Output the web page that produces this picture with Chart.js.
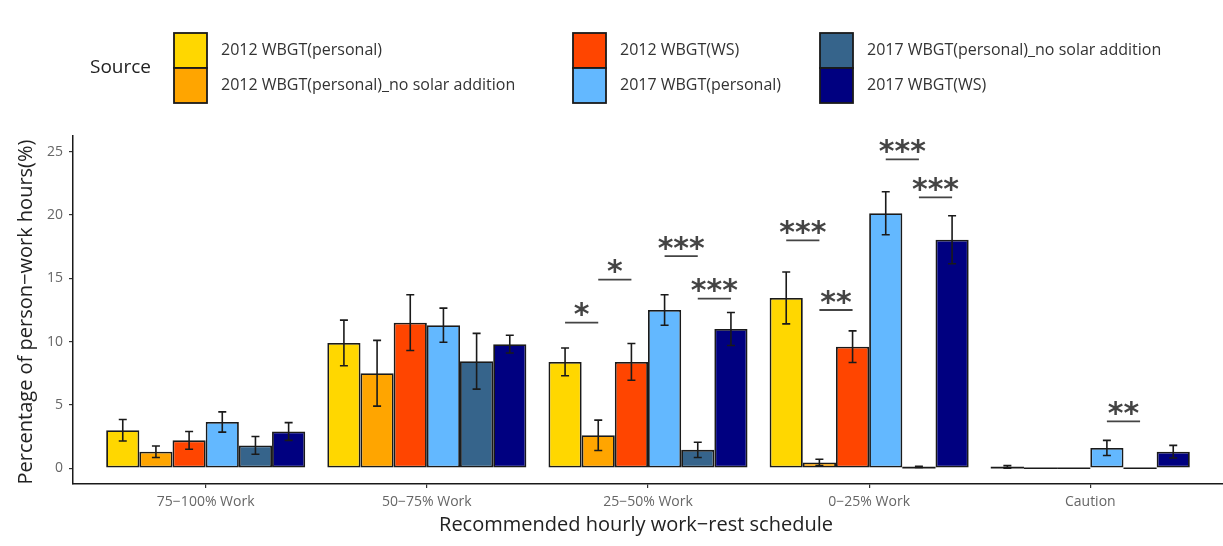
<!DOCTYPE html>
<html>
<head>
<meta charset="utf-8">
<script src="https://cdn.jsdelivr.net/npm/chart.js@4"></script>
<style>
  html, body { margin: 0; padding: 0; background: #fff; }
  #wrap { width: 1223px; height: 546px; }
</style>
</head>
<body>
<div id="wrap"><canvas id="c" width="1223" height="546"></canvas></div>
<script>
// ---- Daten ----
const categories = ["75\u2212100% Work", "50\u221275% Work", "25\u221250% Work", "0\u221225% Work", "Caution"];
const seriesNames = [
  "2012 WBGT(personal)",
  "2012 WBGT(personal)_no solar addition",
  "2012 WBGT(WS)",
  "2017 WBGT(personal)",
  "2017 WBGT(personal)_no solar addition",
  "2017 WBGT(WS)"
];
const seriesColors = ["#FFD700", "#FFA500", "#FF4500", "#63B8FF", "#36648B", "#000080"];

const v2012Personal   = [3.0, 9.9, 8.4, 13.45, 0.1];
const e2012Personal   = [0.85, 1.8, 1.1, 2.05, 0.1];
const v2012PersNoSol  = [1.3, 7.5, 2.6, 0.45, 0];
const e2012PersNoSol  = [0.45, 2.6, 1.2, 0.25, 0];
const v2012WS         = [2.2, 11.5, 8.4, 9.6, 0];
const e2012WS         = [0.7, 2.2, 1.45, 1.25, 0];
const v2017Personal   = [3.65, 11.3, 12.5, 20.15, 1.6];
const e2017Personal   = [0.8, 1.35, 1.2, 1.7, 0.6];
const v2017PersNoSol  = [1.8, 8.45, 1.45, 0.1, 0];
const e2017PersNoSol  = [0.7, 2.2, 0.6, 0.05, 0];
const v2017WS         = [2.9, 9.8, 11.0, 18.05, 1.3];
const e2017WS         = [0.7, 0.7, 1.3, 1.9, 0.5];

const seriesValues = [v2012Personal, v2012PersNoSol, v2012WS, v2017Personal, v2017PersNoSol, v2017WS];
const seriesErrors = [e2012Personal, e2012PersNoSol, e2012WS, e2017Personal, e2017PersNoSol, e2017WS];

// Signifikanz-Markierungen: Kategorie, Balken von/bis, Höhe der Linie, Text
const sigGroup = [2, 2, 2, 2, 3, 3, 3, 3, 4];
const sigFrom  = [0, 1, 3, 4, 0, 1, 3, 4, 3];
const sigTo    = [1, 2, 4, 5, 1, 2, 4, 5, 4];
const sigY     = [11.5, 14.9, 16.75, 13.4, 18.0, 12.5, 24.4, 21.4, 3.7];
const sigLabel = ["*", "*", "***", "***", "***", "**", "***", "***", "**"];

const yTicks = [0, 5, 10, 15, 20, 25];

const FONT = "'Open Sans', sans-serif";

// ---- Plugin: Fehlerbalken, Signifikanz, Legende, Achsentitel ----
const extras = {
  id: "extras",
  afterDatasetsDraw(chart) {
    const ctx = chart.ctx;
    const ys = chart.scales.y;
    ctx.save();
    ctx.strokeStyle = "#1a1a1a";
    ctx.lineWidth = 1.6;
    chart.data.datasets.forEach((ds, k) => {
      const meta = chart.getDatasetMeta(k);
      meta.data.forEach((bar, i) => {
        const p = bar.getProps(["x", "y", "base", "width"], true);
        const half = p.width / 2;
        // flache Balken: nur Kontur als Linie
        if (Math.abs(p.base - p.y) < 2) {
          ctx.beginPath();
          ctx.moveTo(p.x - half, p.base);
          ctx.lineTo(p.x + half, p.base);
          ctx.stroke();
        }
        const e = ds.errors[i];
        if (e > 0) {
          const v = ds.data[i].y;
          const yT = ys.getPixelForValue(v + e);
          const yB = ys.getPixelForValue(Math.max(v - e, 0));
          ctx.beginPath();
          ctx.moveTo(p.x, yT); ctx.lineTo(p.x, yB);
          ctx.moveTo(p.x - 4, yT); ctx.lineTo(p.x + 4, yT);
          ctx.moveTo(p.x - 4, yB); ctx.lineTo(p.x + 4, yB);
          ctx.stroke();
        }
      });
    });

    // Signifikanz
    ctx.font = "bold 30px 'DejaVu Sans'";
    ctx.textAlign = "center";
    ctx.textBaseline = "alphabetic";
    sigGroup.forEach((g, n) => {
      const a = chart.getDatasetMeta(sigFrom[n]).data[g];
      const b = chart.getDatasetMeta(sigTo[n]).data[g];
      const y = ys.getPixelForValue(sigY[n]);
      ctx.strokeStyle = "#444";
      ctx.lineWidth = 1.8;
      ctx.beginPath();
      ctx.moveTo(a.x, y); ctx.lineTo(b.x, y);
      ctx.stroke();
      const m = ctx.measureText(sigLabel[n]);
      const base = y - 13 - (m.actualBoundingBoxDescent - m.actualBoundingBoxAscent) / 2;
      ctx.fillStyle = "#444";
      ctx.fillText(sigLabel[n], (a.x + b.x) / 2, base);
    });
    ctx.restore();
  },
  afterDraw(chart) {
    const ctx = chart.ctx;
    ctx.save();
    // Legende
    ctx.fillStyle = "#222";
    ctx.font = "19px " + FONT;
    ctx.textAlign = "left";
    ctx.textBaseline = "middle";
    ctx.fillText("Source", 90, 68);
    const colX = [174, 573, 820];
    ctx.font = "16px " + FONT;
    seriesNames.forEach((name, k) => {
      const x = colX[Math.floor(k / 2)];
      const top = 33 + (k % 2) * 35;
      ctx.fillStyle = seriesColors[k];
      ctx.fillRect(x, top, 33, 35);
      ctx.strokeStyle = "#1a1a1a";
      ctx.lineWidth = 1.8;
      ctx.strokeRect(x, top, 33, 35);
      ctx.fillStyle = "#333";
      ctx.fillText(name, x + 47, top + 17.5);
    });
    // Achsentitel
    ctx.fillStyle = "#222";
    ctx.font = "20px " + FONT;
    ctx.textAlign = "center";
    ctx.fillText("Recommended hourly work\u2212rest schedule", 636, 525);
    ctx.translate(26, 312);
    ctx.rotate(-Math.PI / 2);
    ctx.fillText("Percentage of person\u2212work hours(%)", 0, 0);
    ctx.restore();
  }
};

// ---- Chart ----
const datasets = seriesValues.map((vals, k) => ({
  label: seriesNames[k],
  data: vals.map((v, i) => ({ x: i, y: v })),
  errors: seriesErrors[k],
  backgroundColor: seriesColors[k],
  borderColor: "#1a1a1a",
  borderWidth: 1.8,
  borderSkipped: false,
  categoryPercentage: 0.9,
  barPercentage: 1.0
}));

new Chart(document.getElementById("c").getContext("2d"), {
  type: "bar",
  data: { datasets },
  options: {
    responsive: false,
    animation: false,
    layout: { padding: { top: 136, left: 0, right: 0, bottom: 0 } },
    plugins: { legend: { display: false }, tooltip: { enabled: false } },
    scales: {
      x: {
        type: "linear",
        offset: false,
        min: -0.6, max: 4.6,
        afterBuildTicks: (s) => { s.ticks = categories.map((c, i) => ({ value: i })); },
        afterFit: (s) => { s.height = 62; },
        ticks: {
          callback: (v) => categories[v],
          color: "#666",
          font: { family: FONT, size: 14 },
          padding: 6,
          autoSkip: false,
          maxRotation: 0
        },
        grid: { offset: false, drawOnChartArea: false, drawTicks: true, tickLength: 4, color: "#333", lineWidth: 1.2 },
        border: { color: "#1a1a1a", width: 1.5 }
      },
      y: {
        min: -1.25, max: 26.25,
        afterBuildTicks: (s) => { s.ticks = yTicks.map((v) => ({ value: v })); },
        afterFit: (s) => { s.width = 73; },
        ticks: {
          color: "#666",
          font: { family: FONT, size: 14 },
          padding: 6
        },
        grid: { drawOnChartArea: false, drawTicks: true, tickLength: 4, color: "#333", lineWidth: 1.2 },
        border: { color: "#1a1a1a", width: 1.5 }
      }
    }
  },
  plugins: [extras]
});
</script>
</body>
</html>
